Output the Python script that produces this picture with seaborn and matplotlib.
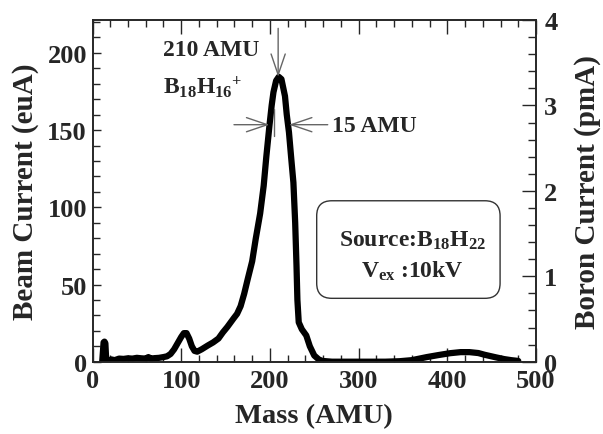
import numpy as np
import pandas as pd
import matplotlib
matplotlib.use("Agg")
import matplotlib.pyplot as plt
import seaborn as sns
from matplotlib.patches import FancyBboxPatch
from matplotlib.ticker import MultipleLocator

# short spike at very low mass (separate trace piece)
spike_mass = [11, 12.5, 13.5, 14.5, 15.5]
spike_current = [0.5, 12.5, 13.0, 12.0, 0.5]

# main mass scan
mass = [21, 25, 30, 35, 40, 45, 50, 55, 60, 63, 66, 70, 75, 80, 84, 88, 92, 96, 100,
        103, 106, 109, 112, 115, 118, 123, 130, 136, 142, 147, 152, 159, 163, 167,
        171, 175, 180, 184, 189, 193, 196, 199.5, 202, 204, 207, 210, 213, 217, 219,
        221.5, 224, 226.5, 228.5, 230, 231, 232.5, 236, 241, 245, 250, 255, 259, 270,
        300, 330, 346, 360, 377, 390, 403, 415, 425, 435, 442, 455, 464, 472, 480]
current = [1.5, 1.0, 2.0, 1.8, 2.2, 2.0, 2.5, 2.2, 2.0, 3.0, 2.0, 2.3, 2.5, 3.0, 3.5, 5.0, 8.0, 12.0, 16.0,
           18.5, 18.5, 15.0, 10.0, 7.0, 6.5, 8.0, 10.5, 12.5, 15.0, 19.0, 22.5, 28.0, 31.0, 36.0,
           44.0, 53.5, 65.0, 79.5, 96.0, 114.0, 133.0, 153.0, 166.0, 174.5, 182.0, 184.5, 183.0, 172.0, 160.0,
           148.5, 132.0, 116.0, 90.0, 62.0, 40.0, 25.5, 21.0, 17.0, 10.0, 4.0, 1.5, 0.5, 0.0,
           0.0, 0.0, 0.3, 1.0, 3.0, 4.3, 5.5, 6.2, 6.2, 5.6, 4.5, 2.8, 1.7, 1.0, 0.5]

sns.set_style("ticks")
plt.rcParams['font.family'] = ['Liberation Serif', 'DejaVu Serif']
plt.rcParams['font.weight'] = 'bold'
plt.rcParams['mathtext.fontset'] = 'custom'
plt.rcParams['mathtext.rm'] = 'Liberation Serif:bold'
plt.rcParams['mathtext.it'] = 'Liberation Serif:bold'
plt.rcParams['mathtext.bf'] = 'Liberation Serif:bold'

df = pd.concat([
    pd.DataFrame({'Mass': spike_mass, 'Current': spike_current, 'seg': 0}),
    pd.DataFrame({'Mass': mass, 'Current': current, 'seg': 1}),
])

fig = plt.figure(figsize=(6.03, 4.35), dpi=100)
ax = fig.add_axes([0.1534, 0.1662, 0.7355, 0.7855])
sns.lineplot(data=df, x='Mass', y='Current', units='seg', estimator=None, sort=False,
             color='black', lw=4.5, ax=ax, legend=False)

ax.set_xlim(0, 500)
ax.set_ylim(0, 221.3)
ax.xaxis.set_major_locator(MultipleLocator(100))
ax.xaxis.set_minor_locator(MultipleLocator(20))
ax.yaxis.set_major_locator(MultipleLocator(50))
ax.yaxis.set_minor_locator(MultipleLocator(10))
ax.tick_params(which='both', direction='in', top=True, right=False, width=1, labelsize=19)
ax.tick_params(axis='x', which='major', length=10, pad=5)
ax.tick_params(axis='x', which='minor', length=5)
ax.tick_params(axis='y', which='major', length=6, pad=4)
ax.tick_params(axis='y', which='minor', length=5)
for s in ax.spines.values():
    s.set_linewidth(1.2)

ax.set_xlabel('Mass (AMU)', fontsize=20.5, fontweight='bold')
ax.set_ylabel('Beam Current (euA)', fontsize=21, fontweight='bold')
ax.xaxis.set_label_coords(0.5, -0.158)
ax.yaxis.set_label_coords(-0.152, 0.5)
ax.xaxis.label.set_va('center')
ax.yaxis.label.set_va('center')

ax2 = ax.twinx()
ax2.set_ylim(0, 4)
ax2.yaxis.set_major_locator(MultipleLocator(1))
ax2.yaxis.set_minor_locator(MultipleLocator(0.2))
ax2.tick_params(which='both', direction='in', width=1, labelsize=19)
ax2.tick_params(which='major', length=10, pad=6)
ax2.tick_params(which='minor', length=6)
ax2.set_ylabel('Boron Current (pmA)', fontsize=21, fontweight='bold', rotation=90)
ax2.yaxis.set_label_coords(1.116, 0.5)
ax2.yaxis.label.set_va('center')
for s in ax2.spines.values():
    s.set_linewidth(1.2)

# annotations
arrow_kw = dict(arrowstyle='->,head_length=1.0,head_width=0.34', color='0.4', lw=1,
                shrinkA=0, shrinkB=0, mutation_scale=15)
ax.annotate('', xy=(209.3, 184.4), xytext=(209.3, 215.9), arrowprops=arrow_kw)
ax.annotate('', xy=(199.5, 153.5), xytext=(159.5, 153.5), arrowprops=arrow_kw)
ax.annotate('', xy=(221.4, 153.5), xytext=(265.2, 153.5), arrowprops=arrow_kw)
ax.plot([204.8, 204.8], [146.4, 163.7], color='0.4', lw=1)

ax.text(79.5, 202.5, '210 AMU', fontsize=17, fontweight='bold', ha='left', va='center')
ax.text(79.5, 178.6, r'$\mathrm{B_{18}H_{16}}^{+}$', fontsize=17, ha='left', va='center')
ax.text(269.7, 152.8, '15 AMU', fontsize=17, fontweight='bold', ha='left', va='center')

box = FancyBboxPatch((0.5055, 0.1855), 0.919 - 0.5055, 0.471 - 0.1855,
                     boxstyle='round,pad=0,rounding_size=0.034', mutation_aspect=1.298,
                     transform=ax.transAxes, facecolor='none', edgecolor='0.2', lw=1)
ax.add_patch(box)
ax.text(0.7215, 0.356, r'Source:$\mathrm{B_{18}H_{22}}$', transform=ax.transAxes,
        fontsize=17, fontweight='bold', ha='center', va='center')
ax.text(0.7215, 0.2685, r'$\mathrm{V_{ex}}$ :10kV', transform=ax.transAxes,
        fontsize=17, fontweight='bold', ha='center', va='center')

fig.savefig('out.png', dpi=100)
